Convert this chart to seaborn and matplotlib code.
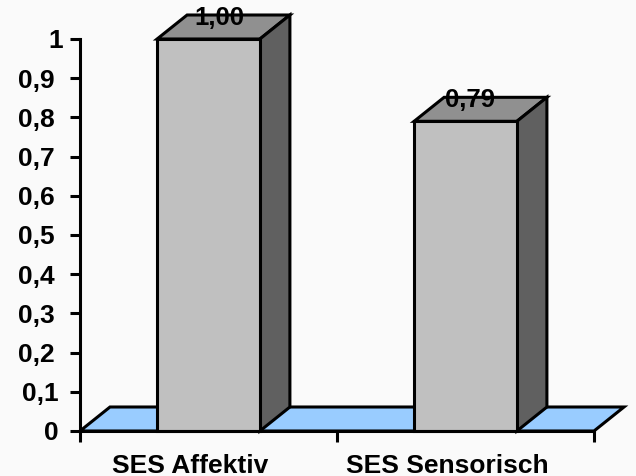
#!/usr/bin/env python3
import seaborn as sns
import matplotlib.pyplot as plt
from matplotlib.patches import Polygon
from matplotlib.transforms import ScaledTranslation

categories = ["SES Affektiv", "SES Sensorisch"]
values = [1.00, 0.79]
value_labels = ["1,00", "0,79"]
y_ticks = [0, 0.1, 0.2, 0.3, 0.4, 0.5, 0.6, 0.7, 0.8, 0.9, 1]
y_tick_labels = ["0", "0,1", "0,2", "0,3", "0,4", "0,5", "0,6", "0,7", "0,8", "0,9", "1"]

FRONT = "#c0c0c0"
TOP = "#909090"
SIDE = "#606060"
FLOOR = "#99ccff"
BACK = "#fafafa"
LW = 2.2
FS = 19
# depth of the fake 3d, in px
DX = 30
DY = 24
# nudges in px, the labels in the original are not quite aligned
VALUE_SHIFT = [11, 4]
Y_LABEL_SHIFT = [4, 4, 0, 0, 0, 0, 0, 0, 0, 0, 8]
X_LABEL_SHIFT = -18


def px(fig, dx, dy):
    return ScaledTranslation(dx / 100, dy / 100, fig.dpi_scale_trans)


def main():
    sns.set_style("white")
    plt.rcParams['font.family'] = ['Liberation Sans', 'DejaVu Sans']
    plt.rcParams['font.weight'] = 'bold'

    fig = plt.figure(figsize=(6.36, 4.77), dpi=100, facecolor=BACK)
    ax = fig.add_axes([80/636, 45/477, 514/636, 392/477])
    ax.patch.set_alpha(0)

    sns.barplot(ax=ax, x=categories, y=values, color=FRONT, saturation=1,
                width=0.4, edgecolor="black", linewidth=LW, zorder=3)
    ax.set_xlim(-0.5, 1.5)
    ax.set_ylim(0, 1)
    bars = list(ax.patches)

    # floor
    p0 = ax.transAxes.transform((0, 0))
    p1 = ax.transAxes.transform((1, 0))
    pts = [p0, p1, (p1[0] + DX, p1[1] + DY), (p0[0] + DX, p0[1] + DY)]
    ax.add_patch(Polygon(pts, closed=True, transform=None, facecolor=FLOOR,
                         edgecolor="black", linewidth=LW, zorder=1, clip_on=False))

    for bar, label, shift in zip(bars, value_labels, VALUE_SHIFT):
        x0 = bar.get_x()
        x1 = x0 + bar.get_width()
        h = bar.get_height()
        a = ax.transData.transform((x0, h))
        b = ax.transData.transform((x1, h))
        c = ax.transData.transform((x1, 0))
        top = [a, b, (b[0] + DX, b[1] + DY), (a[0] + DX, a[1] + DY)]
        side = [c, b, (b[0] + DX, b[1] + DY), (c[0] + DX, c[1] + DY)]
        ax.add_patch(Polygon(top, closed=True, transform=None, facecolor=TOP,
                             edgecolor="black", linewidth=LW, zorder=2, clip_on=False))
        ax.add_patch(Polygon(side, closed=True, transform=None, facecolor=SIDE,
                             edgecolor="black", linewidth=LW, zorder=2, clip_on=False))
        bar.set_clip_on(False)
        ax.text((x0 + x1) / 2, h, label, fontsize=18.5, fontweight="bold", color="black",
                ha="center", va="center", zorder=5, clip_on=False,
                transform=ax.transData + px(fig, shift, 22))

    sns.despine(ax=ax, top=True, right=True)
    for side_name in ["left", "bottom"]:
        ax.spines[side_name].set_linewidth(LW)
        ax.spines[side_name].set_color("black")
        ax.spines[side_name].set_zorder(4)

    ax.set_yticks(y_ticks)
    ax.set_yticklabels(y_tick_labels, fontsize=FS, fontweight="bold")
    ax.set_xticks([-0.5, 0.5, 1.5])
    ax.set_xticklabels([])
    ax.set_xticks([0, 1], labels=categories, minor=True)
    ax.tick_params(axis="y", left=True, length=7.5, width=LW, pad=10.6, color="black", labelcolor="black")
    ax.tick_params(axis="x", which="major", bottom=True, length=8, width=LW, color="black")
    ax.tick_params(axis="x", which="minor", bottom=False, length=0, pad=16, labelsize=FS,
                   labelcolor="black")
    for t, shift in zip(ax.get_yticklabels(), Y_LABEL_SHIFT):
        t.set_transform(t.get_transform() + px(fig, shift, 1))
    for t in ax.get_xticklabels(minor=True):
        t.set_fontweight("bold")
        t.set_transform(t.get_transform() + px(fig, X_LABEL_SHIFT, 0))
    ax.set_xlabel("")
    ax.set_ylabel("")

    plt.savefig('out.png', dpi=100, facecolor=BACK)


if __name__ == "__main__":
    main()
